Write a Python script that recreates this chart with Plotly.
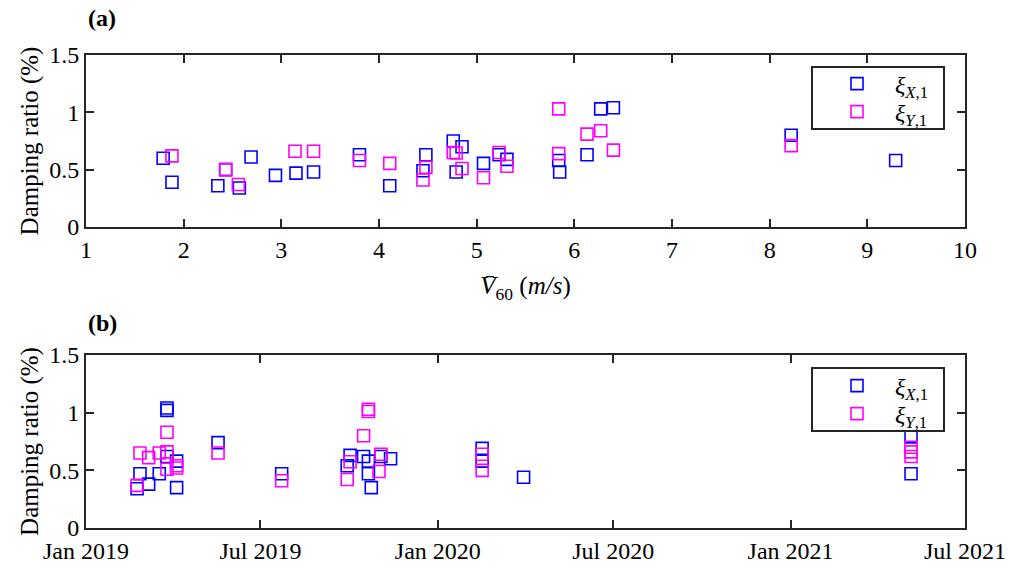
import plotly.graph_objects as go

# Panel (a): damping ratio against mean wind speed at 60 m
v60_x = [1.79, 1.88, 2.35, 2.43, 2.57, 2.69, 2.94, 3.15, 3.33, 3.80, 4.11, 4.45, 4.48,
         4.76, 4.79, 4.85, 5.07, 5.23, 5.31, 5.84, 5.85, 6.13, 6.27, 6.40, 8.22, 9.29]
xi_x_a = [0.60, 0.39, 0.36, 0.50, 0.34, 0.61, 0.45, 0.47, 0.48, 0.63, 0.36, 0.49, 0.63,
          0.75, 0.48, 0.70, 0.555, 0.63, 0.59, 0.58, 0.48, 0.63, 1.03, 1.04, 0.80, 0.58]
v60_y = [1.88, 2.43, 2.56, 3.14, 3.33, 3.80, 4.11, 4.45, 4.48, 4.76, 4.79, 4.85, 5.07,
         5.23, 5.31, 5.84, 5.84, 6.13, 6.27, 6.40, 8.22]
xi_y_a = [0.62, 0.50, 0.37, 0.66, 0.66, 0.58, 0.555, 0.41, 0.52, 0.65, 0.645, 0.51, 0.43,
          0.65, 0.53, 1.03, 0.64, 0.81, 0.84, 0.67, 0.71]

# Panel (b): the same damping ratios against measurement date
date_x = ["2019-02-23", "2019-02-26", "2019-03-07", "2019-03-18", "2019-03-26", "2019-03-26",
          "2019-03-26", "2019-04-05", "2019-04-05", "2019-05-18", "2019-07-23", "2019-09-29",
          "2019-10-02", "2019-10-16", "2019-10-21", "2019-10-21", "2019-10-24", "2019-11-03",
          "2019-11-13", "2020-02-16", "2020-02-16", "2020-03-30", "2021-05-06", "2021-05-06"]
xi_x_b = [0.34, 0.47, 0.38, 0.47, 1.04, 1.02, 0.62, 0.58, 0.35, 0.74, 0.47, 0.54,
          0.63, 0.62, 0.58, 0.47, 0.35, 0.62, 0.60, 0.69, 0.58, 0.44, 0.79, 0.47]
date_y = ["2019-02-23", "2019-02-26", "2019-03-07", "2019-03-18", "2019-03-26", "2019-03-26",
          "2019-03-26", "2019-04-05", "2019-04-05", "2019-05-18", "2019-07-23", "2019-09-29",
          "2019-10-02", "2019-10-16", "2019-10-21", "2019-10-21", "2019-11-01", "2019-11-03",
          "2020-02-16", "2020-02-16", "2021-05-06", "2021-05-06", "2021-05-06"]
xi_y_b = [0.37, 0.65, 0.61, 0.65, 0.83, 0.66, 0.51, 0.54, 0.52, 0.65, 0.41, 0.42,
          0.575, 0.80, 1.03, 1.01, 0.49, 0.64, 0.64, 0.50, 0.70, 0.66, 0.62]

speed_ticks = list(range(1, 11))
ratio_ticks = [0, 0.5, 1, 1.5]
ratio_labels = ["0", "0.5", "1", "1.5"]
date_ticks = ["2019-01-01", "2019-07-01", "2020-01-01", "2020-07-01", "2021-01-01", "2021-07-01"]
date_labels = ["Jan 2019", "Jul 2019", "Jan 2020", "Jul 2020", "Jan 2021", "Jul 2021"]

BLUE = "#0000ff"
MAGENTA = "#ff00ff"
FONT = "Liberation Serif"
AXIS_COLOR = "#262626"
W, H = 1009, 571

name_x = "   <i>ξ</i><sub><i>X</i>,1</sub>"
name_y = "   <i>ξ</i><sub><i>Y</i>,1</sub>"


def marker(color):
    return dict(symbol="square-open", size=12, color=color, line=dict(width=1.6, color=color))


fig = go.Figure()
fig.add_trace(go.Scatter(x=v60_x, y=xi_x_a, mode="markers", marker=marker(BLUE),
                         name=name_x, xaxis="x", yaxis="y", legend="legend"))
fig.add_trace(go.Scatter(x=v60_y, y=xi_y_a, mode="markers", marker=marker(MAGENTA),
                         name=name_y, xaxis="x", yaxis="y", legend="legend2"))
fig.add_trace(go.Scatter(x=date_x, y=xi_x_b, mode="markers", marker=marker(BLUE),
                         name=name_x, xaxis="x2", yaxis="y2", legend="legend3"))
fig.add_trace(go.Scatter(x=date_y, y=xi_y_b, mode="markers", marker=marker(MAGENTA),
                         name=name_y, xaxis="x2", yaxis="y2", legend="legend4"))

common = dict(showline=True, linecolor=AXIS_COLOR, linewidth=2, mirror="ticks",
              ticks="inside", ticklen=8, tickwidth=1.5, tickcolor=AXIS_COLOR,
              showgrid=False, zeroline=False, automargin=False,
              tickfont=dict(family=FONT, size=24, color="#000"))


def legend_at(px, py):
    # one legend entry whose symbol centre sits at pixel (px, py)
    return dict(visible=True, bgcolor="rgba(0,0,0,0)", borderwidth=0,
                font=dict(family=FONT, size=24, color="#000"),
                xanchor="left", yanchor="middle", itemwidth=30,
                x=(px - 20) / W, y=1 - py / H)


def frame(x0, y0, x1, y1):
    # legend frame in paper coordinates (pixel edges converted to fractions)
    return dict(type="rect", xref="paper", yref="paper",
                x0=x0 / W, x1=x1 / W, y0=1 - y1 / H, y1=1 - y0 / H,
                line=dict(color=AXIS_COLOR, width=2), fillcolor="white", layer="above")


fig.update_layout(
    width=W, height=H,
    margin=dict(l=0, r=0, t=0, b=0),
    paper_bgcolor="white", plot_bgcolor="white",
    font=dict(family=FONT, color="#000"),
    showlegend=True,
    xaxis=dict(common, domain=[86 / W, 965 / W], range=[1, 10], tickvals=speed_ticks,
               anchor="y",
               title=dict(text="<i>V̄</i><sub>60</sub> (<i>m/s</i>)",
                          font=dict(family=FONT, size=25))),
    yaxis=dict(common, domain=[1 - 227 / H, 1 - 55 / H], range=[0, 1.5], tickvals=ratio_ticks,
               ticktext=ratio_labels, anchor="x",
               title=dict(text="Damping ratio (%)", font=dict(family=FONT, size=25), standoff=3)),
    xaxis2=dict(common, domain=[86 / W, 965 / W], type="date",
                range=["2019-01-01", "2021-07-01"], tickvals=date_ticks, ticktext=date_labels,
                anchor="y2"),
    yaxis2=dict(common, domain=[1 - 528 / H, 1 - 355 / H], range=[0, 1.5], tickvals=ratio_ticks,
                ticktext=ratio_labels, anchor="x2",
                title=dict(text="Damping ratio (%)", font=dict(family=FONT, size=25), standoff=3)),
    legend=legend_at(857, 84),
    legend2=legend_at(857, 112),
    legend3=legend_at(857, 386),
    legend4=legend_at(857, 414),
    shapes=[frame(812, 67, 944, 129), frame(812, 368, 944, 431)],
    annotations=[
        dict(text="<b>(a)</b>", x=86 / W, y=1 - 18 / H, xref="paper", yref="paper",
             xanchor="left", yanchor="middle", showarrow=False,
             font=dict(family=FONT, size=24, color="#000")),
        dict(text="<b>(b)</b>", x=86 / W, y=1 - 323 / H, xref="paper", yref="paper",
             xanchor="left", yanchor="middle", showarrow=False,
             font=dict(family=FONT, size=24, color="#000")),
    ],
)

fig.write_html("out.html")
